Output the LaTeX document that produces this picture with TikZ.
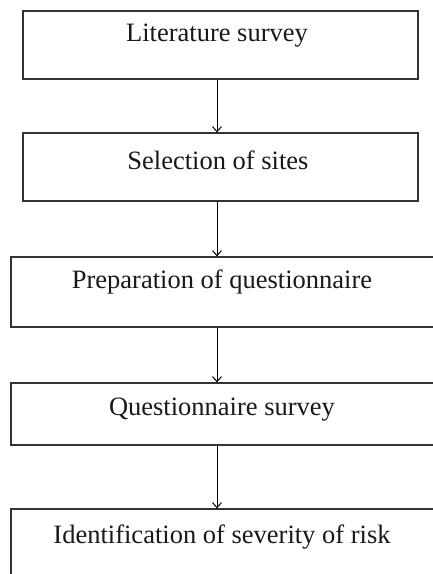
\documentclass[tikz,border=0pt]{standalone}
\usepackage{fontspec}
\setmainfont{Liberation Serif}
\usetikzlibrary{arrows.meta}
\begin{document}
\begin{tikzpicture}[x=1pt,y=-1pt,
  box/.style={draw=black!80, line width=1.3pt, rectangle, inner sep=0pt},
  lbl/.style={font=\fontsize{26.5}{30}\selectfont, inner sep=0pt, text=black!90},
  arr/.style={draw=black, line width=1pt, -{Straight Barb[length=5pt,width=9pt,line width=1pt]}}]
\useasboundingbox (0,0) rectangle (433,574);
\fill[white] (0,0) rectangle (433,574);
\clip (0,0) rectangle (433,574);
\node[box, minimum width=395pt, minimum height=68pt] (b1) at (220.5,45) {};
\node[box, minimum width=395pt, minimum height=68pt] (b2) at (220.5,167) {};
\node[box, minimum width=434pt, minimum height=70pt] (b3) at (228,292) {};
\node[box, minimum width=434pt, minimum height=62pt] (b4) at (228,414) {};
\node[box, minimum width=434pt, minimum height=81pt] (b5) at (228,549.5) {};
\node[lbl] (t1) at (217,36) {Literature survey};
\node[lbl] (t2) at (218,160) {Selection of sites};
\node[lbl] (t3) at (222,282) {Preparation of questionnaire};
\node[lbl] (t4) at (222,410) {Questionnaire survey};
\node[lbl] (t5) at (222,537) {Identification of severity of risk};
\coordinate (ax) at (217,0);
\draw[arr] (b1.south -| ax) -- (b2.north -| ax);
\draw[arr] (b2.south -| ax) -- (b3.north -| ax);
\draw[arr] (b3.south -| ax) -- (b4.north -| ax);
\draw[arr] (b4.south -| ax) -- (b5.north -| ax);
\end{tikzpicture}
\end{document}
